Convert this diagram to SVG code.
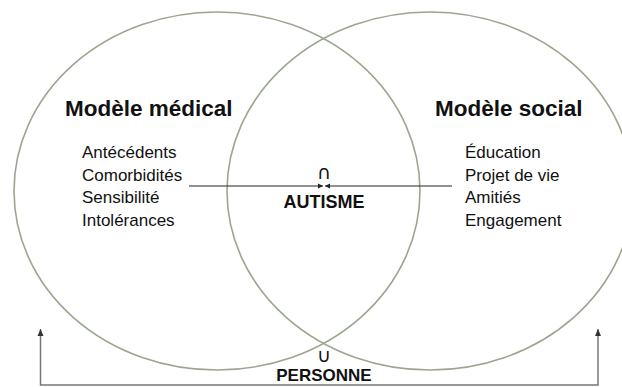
<svg xmlns="http://www.w3.org/2000/svg" width="622" height="387" viewBox="0 0 622 387">
<style>
.ring{fill:none;stroke:#9ba690;stroke-width:1.6}
.h{font-family:"Liberation Sans",Arial,sans-serif;font-weight:bold;font-size:22.5px;fill:#111}
.t{font-family:"Liberation Sans",Arial,sans-serif;font-size:17px;fill:#111}
.b{font-family:"Liberation Sans",Arial,sans-serif;font-weight:bold;font-size:18px;fill:#111;text-anchor:middle}
.sym{font-family:"DejaVu Sans",sans-serif;font-size:19px;fill:#111;text-anchor:middle}
.ln{fill:none;stroke:#222;stroke-width:1}
.br{fill:none;stroke:#777;stroke-width:1.5}
</style>
<defs>
<marker id="ah" markerWidth="6" markerHeight="6" refX="5" refY="3" orient="auto" markerUnits="userSpaceOnUse">
<path d="M0,0.5 L5,3 L0,5.5 Z" fill="#222"/>
</marker>
<marker id="ahg" markerWidth="8" markerHeight="8" refX="7" refY="4" orient="auto-start-reverse" markerUnits="userSpaceOnUse">
<path d="M0,1 L7,4 L0,7 Z" fill="#333"/>
</marker>
</defs>
<g id="medical">
<ellipse class="ring" cx="217" cy="191" rx="203" ry="179"/>
<text class="h" x="65" y="116">Modèle médical</text>
<text class="t" x="82" y="158">Antécédents</text>
<text class="t" x="82" y="180.5">Comorbidités</text>
<text class="t" x="82" y="203">Sensibilité</text>
<text class="t" x="82" y="226">Intolérances</text>
</g>
<g id="social">
<ellipse class="ring" cx="430" cy="191" rx="203" ry="179"/>
<text class="h" x="435" y="116">Modèle social</text>
<text class="t" x="465" y="158">Éducation</text>
<text class="t" x="465" y="180.5">Projet de vie</text>
<text class="t" x="465" y="203">Amitiés</text>
<text class="t" x="465" y="226">Engagement</text>
</g>
<g id="autisme">
<text class="sym" x="324" y="179">∩</text>
<text class="b" x="324" y="208">AUTISME</text>
</g>
<g id="personne">
<text class="sym" x="324" y="362">∪</text>
<text class="b" x="324" y="381" style="font-size:17px">PERSONNE</text>
</g>
<g id="connectors">
<line class="ln" x1="189" y1="186" x2="323" y2="186" marker-end="url(#ah)"/>
<line class="ln" x1="452" y1="186" x2="325" y2="186" marker-end="url(#ah)"/>
<polyline class="br" points="40.5,329 40.5,385 598,385 598,329" marker-start="url(#ahg)" marker-end="url(#ahg)"/>
</g>
</svg>
